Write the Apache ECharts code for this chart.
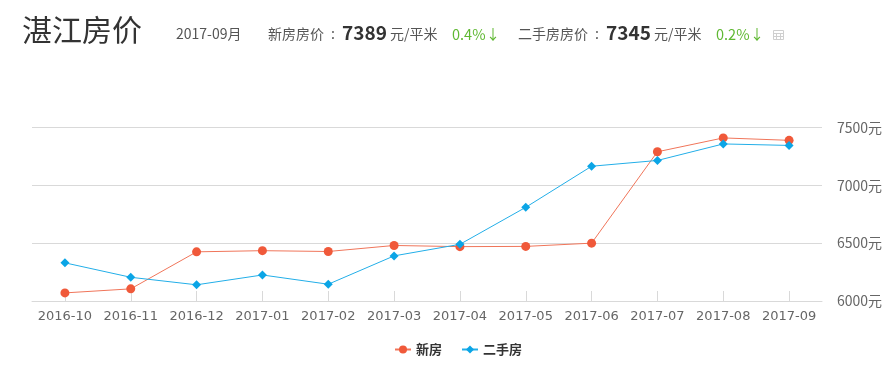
<!DOCTYPE html>
<html><head><meta charset="utf-8">
<style>html,body{margin:0;padding:0;background:#fff}#c{width:892px;height:368px}</style>
<script src="https://cdn.jsdelivr.net/npm/echarts@6/dist/echarts.min.js"></script></head>
<body><div id="c"></div>
<script>
const categories=['2016-10','2016-11','2016-12','2017-01','2017-02','2017-03','2017-04','2017-05','2017-06','2017-07','2017-08','2017-09'];
const newHome=[6070,6105,6425,6435,6428,6480,6470,6472,6500,7290,7410,7389];
const resale=[6330,6205,6140,6225,6145,6390,6490,6810,7165,7215,7358,7345];
const yTicks={min:6000,max:7500,interval:500};
const CJK='"Noto Sans CJK SC","Noto Sans",sans-serif';
const txt=(x,y,text,size,color,weight)=>({type:'text',x,y,style:{text,font:`${weight||'normal'} ${size}px ${CJK}`,fill:color,textVerticalAlign:'middle'},silent:true});
const iconLine=(x1,y1,x2,y2)=>({type:'line',shape:{x1,y1,x2,y2},style:{stroke:'#cfcfcf',lineWidth:1},silent:true});
const chart=echarts.init(document.getElementById('c'));
chart.setOption({
 animation:false,
 grid:{left:32,right:70,top:127.5,bottom:67},
 legend:{top:338,left:389,itemGap:19,itemWidth:16,itemHeight:10,
   textStyle:{color:'#333',fontSize:13,fontWeight:'bold',fontFamily:CJK},
   data:['新房','二手房']},
 xAxis:{type:'category',data:categories,boundaryGap:true,
   axisLine:{lineStyle:{color:'#d9d9d9',width:1}},
   axisTick:{show:true,alignWithLabel:true,inside:true,length:10,lineStyle:{color:'#d9d9d9'}},
   axisLabel:{color:'#666',fontSize:13,margin:9,fontFamily:'"DejaVu Sans",sans-serif',interval:0}},
 yAxis:{type:'value',position:'right',min:yTicks.min,max:yTicks.max,interval:yTicks.interval,
   axisLine:{show:false},axisTick:{show:false},
   splitLine:{lineStyle:{color:'#d9d9d9',width:1}},
   axisLabel:{color:'#666',fontSize:14,margin:15,fontFamily:CJK,formatter:v=>v+'元',padding:[0,0,4,0]}},
 series:[
  {name:'新房',type:'line',data:newHome,symbol:'circle',symbolSize:9,
   itemStyle:{color:'#f0593a'},lineStyle:{color:'#f0755a',width:1}},
  {name:'二手房',type:'line',data:resale,symbol:'diamond',symbolSize:9,
   itemStyle:{color:'#0ba5e6'},lineStyle:{color:'#22aee8',width:1}}
 ],
 graphic:[
  txt(22,30,'湛江房价',30,'#333'),
  txt(176,34,'2017-09月',14,'#555'),
  txt(268,34,'新房房价',14,'#555'),
  txt(331,34,':',14,'#555'),
  txt(342,33,'7389',19,'#333','bold'),
  txt(390,34,'元/平米',14,'#555'),
  txt(452,34,'0.4%',14.5,'#5fb832'),
  txt(486,34,'↓',14,'#5fb832'),
  txt(518,34,'二手房房价',14,'#555'),
  txt(595,34,':',14,'#555'),
  txt(606,33,'7345',19,'#333','bold'),
  txt(654,34,'元/平米',14,'#555'),
  txt(716,34,'0.2%',14.5,'#5fb832'),
  txt(750,34,'↓',14,'#5fb832'),
  {type:'rect',shape:{x:773.5,y:30.5,width:10,height:9},style:{fill:'none',stroke:'#cfcfcf',lineWidth:1},silent:true},
  iconLine(773.5,33.5,783.5,33.5),iconLine(773.5,36.5,783.5,36.5),
  iconLine(776.5,33.5,776.5,39.5),iconLine(780.5,33.5,780.5,39.5)
 ]
});
</script></body></html>
